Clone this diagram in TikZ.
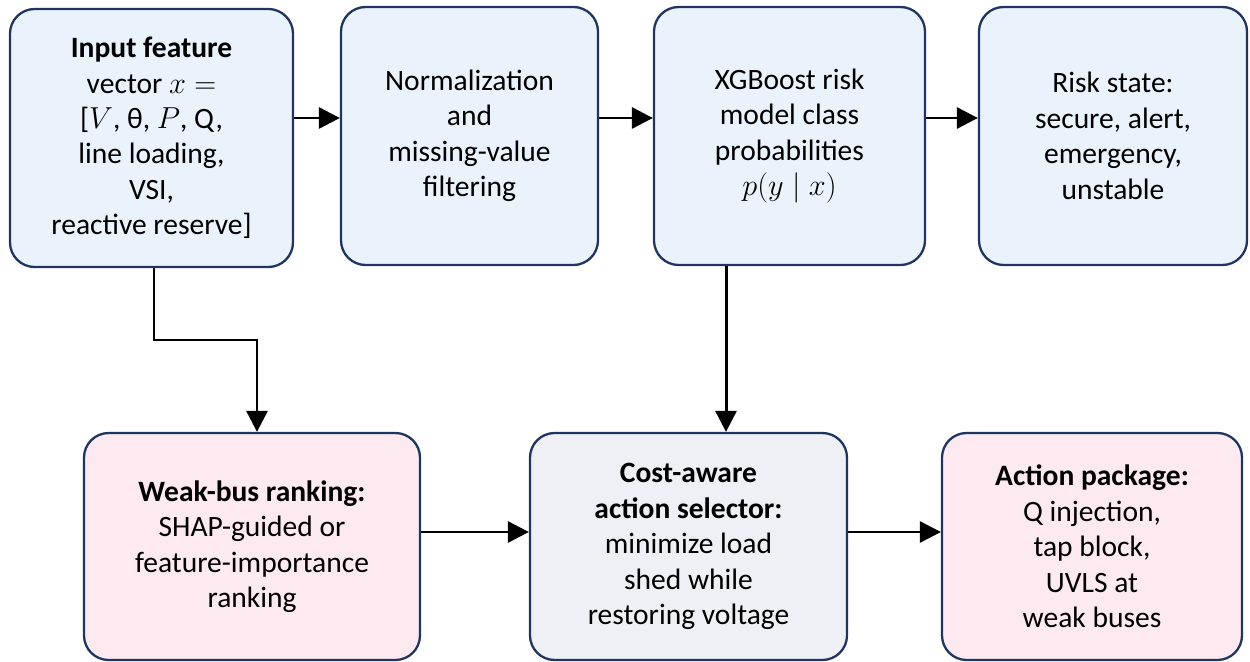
\documentclass[tikz,border=0pt]{standalone}
\usepackage{fontspec}
\setmainfont{Carlito}
\usetikzlibrary{arrows.meta}
\definecolor{edgeblue}{HTML}{1F3560}
\definecolor{topfill}{HTML}{EAF2FC}
\definecolor{pinkfill}{HTML}{FCEAF0}
\definecolor{greyfill}{HTML}{EEF0F5}
\tikzset{
  box/.style={draw=edgeblue, line width=1.3pt, rounded corners=14pt, align=center,
    inner sep=0pt, font=\fontsize{16.8}{20.2}\selectfont, text=black},
  topbox/.style={box, fill=topfill, minimum height=258*0.02cm},
  botbox/.style={box, minimum height=227*0.02cm},
  conn/.style={line width=1.7pt, -{Triangle[length=12pt,width=12pt]}}
}
\begin{document}
\begin{tikzpicture}[x=0.02cm,y=-0.02cm]
\useasboundingbox (0,0) rectangle (1250,662);
\node[topbox, minimum width=283*0.02cm] (b1) at (151.5,138)
  {\textbf{Input feature}\\vector $x =$\\{}[$V$, θ, $P$, Q,\\line loading,\\VSI,\\reactive reserve]};
\node[topbox, minimum width=257*0.02cm] (b2) at (469.5,136)
  {Normalization\\and\\missing-value\\filtering};
\node[topbox, minimum width=271*0.02cm] (b3) at (789.5,136)
  {XGBoost risk\\model class\\probabilities\\$p(y \mid x)$};
\node[topbox, minimum width=268*0.02cm] (b4) at (1113,136)
  {Risk state:\\secure, alert,\\emergency,\\unstable};
\node[botbox, fill=pinkfill, minimum width=336*0.02cm] (b5) at (252,546.5)
  {\textbf{Weak-bus ranking:}\\SHAP-guided or\\feature-importance\\ranking};
\node[botbox, fill=greyfill, minimum width=317*0.02cm] (b6) at (688.5,546.5)
  {\textbf{Cost-aware}\\\textbf{action selector:}\\minimize load\\shed while\\restoring voltage};
\node[botbox, fill=pinkfill, minimum width=300*0.02cm] (b7) at (1092,546.5)
  {\textbf{Action package:}\\Q injection,\\tap block,\\UVLS at\\weak buses};
\coordinate (yt) at (0,118);
\coordinate (yb) at (0,532);
\coordinate (xa) at (154,0);
\coordinate (xb) at (257,340);
\coordinate (xc) at (726,0);
\draw[conn] (b1.east |- yt) -- (b2.west |- yt);
\draw[conn] (b2.east |- yt) -- (b3.west |- yt);
\draw[conn] (b3.east |- yt) -- (b4.west |- yt);
\draw[conn] (b1.south -| xa) |- (xb) -- (b5.north -| xb);
\draw[conn] (b3.south -| xc) -- (b6.north -| xc);
\draw[conn] (b5.east |- yb) -- (b6.west |- yb);
\draw[conn] (b6.east |- yb) -- (b7.west |- yb);
\end{tikzpicture}
\end{document}
